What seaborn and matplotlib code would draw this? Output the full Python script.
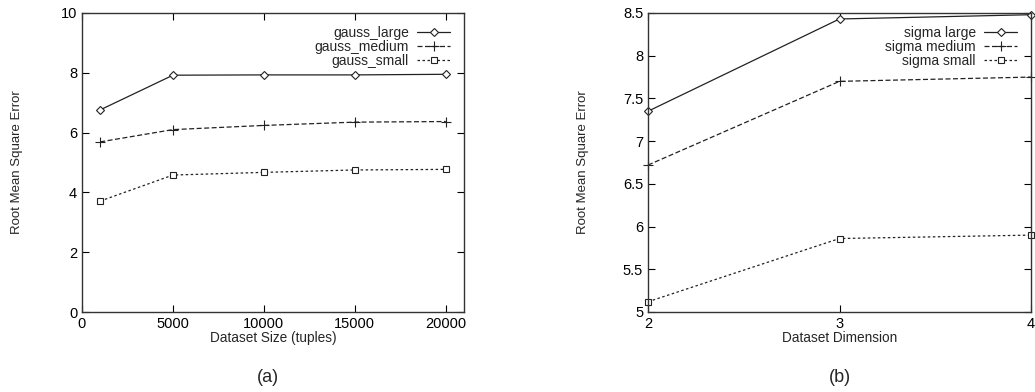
import matplotlib
matplotlib.use("Agg")
import matplotlib.pyplot as plt
import seaborn as sns
import pandas as pd

# Panel (a)
sizes = [1000, 5000, 10000, 15000, 20000]
gauss_large = [6.76, 7.92, 7.93, 7.93, 7.95]
gauss_medium = [5.69, 6.10, 6.24, 6.35, 6.37]
gauss_small = [3.71, 4.58, 4.67, 4.75, 4.77]

# Panel (b)
dims = [2, 3, 4]
sigma_large = [7.35, 8.43, 8.48]
sigma_medium = [6.72, 7.70, 7.75]
sigma_small = [5.12, 5.86, 5.90]

sns.set_style("ticks")
plt.rcParams['font.family'] = ['Liberation Sans', 'DejaVu Sans']
plt.rcParams['xtick.direction'] = 'in'
plt.rcParams['ytick.direction'] = 'in'

fig = plt.figure(figsize=(10.35, 3.92), dpi=100)
axA = fig.add_axes([82/1035, 1-312/392, (464-82)/1035, (312-13)/392])
axB = fig.add_axes([648/1035, 1-312/392, (1031-648)/1035, (312-13)/392])

styles = [
    dict(marker='D', linestyle='-', markersize=4, markerfacecolor='white'),
    dict(marker='+', linestyle=(0, (4, 2)), markersize=7),
    dict(marker='s', linestyle=(0, (2, 2)), markersize=5, markerfacecolor='white'),
]

def draw(ax, xs, series, names):
    for ys, name, st in zip(series, names, styles):
        df = pd.DataFrame({'x': xs, 'y': ys})
        sns.lineplot(data=df, x='x', y='y', ax=ax, color='#222222', linewidth=0.9,
                     label=name, clip_on=False, markeredgecolor='#222222',
                     markeredgewidth=0.8, **st)
    ax.tick_params(top=True, right=True, length=5, width=0.8, labelsize=10.5, colors='black')
    for s in ax.spines.values():
        s.set_linewidth(1.0)
        s.set_color('#333333')
    ax.legend(loc='upper right', frameon=False, markerfirst=False, fontsize=10,
              handlelength=2.4, handletextpad=0.6, labelspacing=0.0,
              borderaxespad=0.3, bbox_to_anchor=(0.99, 0.99))
    ax.set_ylabel('Root Mean Square Error', fontsize=9.5)
    ax.yaxis.set_label_coords(-0.155, 0.5)

draw(axA, sizes, [gauss_large, gauss_medium, gauss_small],
     ['gauss_large', 'gauss_medium', 'gauss_small'])
axA.set_xlim(0, 21000)
axA.set_ylim(0, 10)
axA.set_xticks([0, 5000, 10000, 15000, 20000])
axA.set_yticks([0, 2, 4, 6, 8, 10])
axA.set_xlabel('Dataset Size (tuples)', fontsize=9.8, labelpad=0)

draw(axB, dims, [sigma_large, sigma_medium, sigma_small],
     ['sigma large', 'sigma medium', 'sigma small'])
axB.set_xlim(2, 4)
axB.set_ylim(5, 8.5)
axB.set_xticks([2, 3, 4])
axB.set_yticks([5, 5.5, 6, 6.5, 7, 7.5, 8, 8.5])
axB.set_yticklabels(['5', '5.5', '6', '6.5', '7', '7.5', '8', '8.5'])
axB.set_xlabel('Dataset Dimension', fontsize=9.8, labelpad=0)

fig.text(268/1035, 1-377/392, '(a)', ha='center', va='center', fontsize=13)
fig.text(840/1035, 1-377/392, '(b)', ha='center', va='center', fontsize=13)

fig.savefig('out.png', dpi=100)
